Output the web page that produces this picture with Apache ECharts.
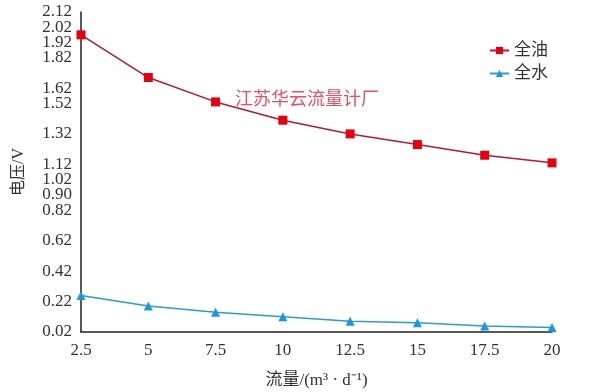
<!DOCTYPE html>
<html><head><meta charset="utf-8">
<script src="https://cdn.jsdelivr.net/npm/echarts@6/dist/echarts.min.js"></script>
<style>html,body{margin:0;padding:0;background:#fff}#c{width:605px;height:392px}</style>
</head><body><div id="c"></div>
<script>
const flow = [2.5, 5, 7.5, 10, 12.5, 15, 17.5, 20];
const oilVoltage = [1.97, 1.69, 1.53, 1.41, 1.32, 1.25, 1.18, 1.13];
const waterVoltage = [0.26, 0.19, 0.15, 0.12, 0.09, 0.08, 0.06, 0.05];
const yTickValues = [2.12, 2.02, 1.92, 1.82, 1.62, 1.52, 1.32, 1.12, 1.02, 0.92, 0.82, 0.62, 0.42, 0.22, 0.02];
const yTickLabels = ['2.12','2.02','1.92','1.82','1.62','1.52','1.32','1.12','1.02','0.90','0.82','0.62','0.42','0.22','0.02'];
const seriesNames = ['全油', '全水'];

const chart = echarts.init(document.getElementById('c'));
const serif = '"Liberation Serif", "Noto Sans CJK SC", serif';

function labelFor(v, wantIdx) {
  for (let i = 0; i < yTickValues.length; i++) {
    if (Math.abs(v - yTickValues[i]) < 0.001) return wantIdx(i) ? yTickLabels[i] : '';
  }
  return '';
}
const yLabelStyle = {fontFamily: serif, fontSize: 17, color: '#333', margin: 9, lineHeight: 12};

chart.setOption({
  animation: false,
  backgroundColor: '#fff',
  grid: {left: 81, right: 53, top: 12, bottom: 60, containLabel: false, outerBoundsMode: 'none'},
  legend: {
    right: 52, top: 37, orient: 'vertical', itemGap: 6, itemWidth: 19, itemHeight: 9,
    textStyle: {fontFamily: serif, fontSize: 17, color: '#333'},
    data: seriesNames
  },
  xAxis: {
    type: 'value', min: 2.5, max: 20, interval: 2.5,
    name: '流量/(m³ · d⁻¹)', nameLocation: 'middle', nameGap: 40,
    nameTextStyle: {fontFamily: serif, fontSize: 17, color: '#333'},
    axisLine: {lineStyle: {color: '#222', width: 1.5}},
    axisTick: {show: false}, splitLine: {show: false},
    axisLabel: {fontFamily: serif, fontSize: 17, color: '#333', margin: 10}
  },
  yAxis: [{
    type: 'value', min: 0.02, max: 2.12, interval: 0.1, position: 'left',
    name: '电压/V', nameLocation: 'middle', nameGap: 54, nameRotate: 90,
    nameTextStyle: {fontFamily: serif, fontSize: 16, color: '#333'},
    axisLine: {show: true, lineStyle: {color: '#222', width: 1.5}},
    axisTick: {show: false}, splitLine: {show: false},
    axisLabel: Object.assign({}, yLabelStyle, {
      showMinLabel: true, showMaxLabel: true,
      formatter: v => labelFor(v, i => i !== 1)
    })
  }, {
    type: 'value', min: 0.02, max: 2.12, interval: 0.1, position: 'left', offset: 0,
    axisLine: {show: false}, axisTick: {show: false}, splitLine: {show: false},
    axisLabel: Object.assign({}, yLabelStyle, {
      showMinLabel: false, showMaxLabel: false,
      formatter: v => labelFor(v, i => i === 1)
    })
  }],
  graphic: [{
    type: 'text', left: 235, top: 89,
    style: {text: '江苏华云流量计厂', fill: '#e8505f', font: '18px "Noto Sans CJK SC", sans-serif'}
  }],
  series: [{
    name: seriesNames[0], type: 'line', yAxisIndex: 0,
    data: flow.map((x, i) => [x, oilVoltage[i]]),
    symbol: 'rect', symbolSize: 9,
    lineStyle: {color: '#b8192f', width: 1.5},
    itemStyle: {color: '#e60012'}
  }, {
    name: seriesNames[1], type: 'line', yAxisIndex: 0,
    data: flow.map((x, i) => [x, waterVoltage[i]]),
    symbol: 'triangle', symbolSize: 9,
    lineStyle: {color: '#2a9ad8', width: 1.5},
    itemStyle: {color: '#1a98dc'}
  }]
});
</script></body></html>
